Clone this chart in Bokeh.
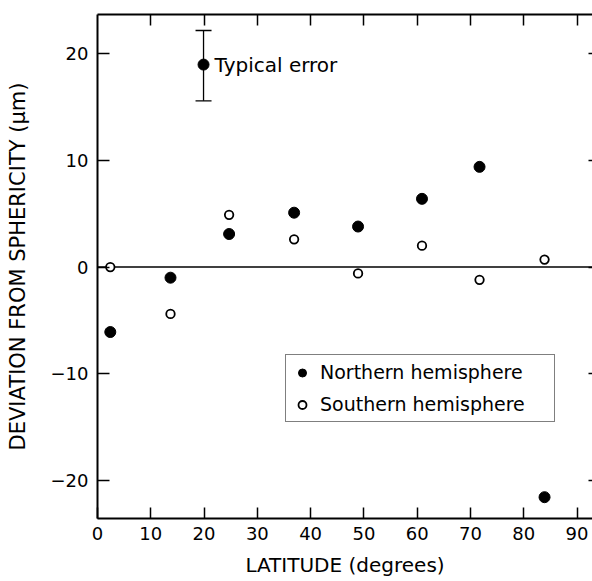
from bokeh.plotting import figure
from bokeh.models import (Range1d, FixedTicker, LinearAxis, Span, Whisker,
                          ColumnDataSource, TeeHead)
from bokeh.embed import file_html
from bokeh.resources import INLINE
from bokeh.core.properties import value

# ---- data ----
lat_north = [2.4, 13.7, 24.7, 36.9, 48.9, 60.9, 71.7, 83.9]
dev_north = [-6.1, -1.0, 3.1, 5.1, 3.8, 6.4, 9.4, -21.6]
lat_south = [2.4, 13.7, 24.7, 36.9, 48.9, 60.9, 71.7, 83.9]
dev_south = [0.0, -4.4, 4.9, 2.6, -0.6, 2.0, -1.2, 0.7]

err_x = [19.9]
err_y = [19.0]
err_lower = [15.6]
err_upper = [22.2]
err_text = ["Typical error"]

x_ticks = [0, 10, 20, 30, 40, 50, 60, 70, 80, 90]
y_ticks = [-20, -10, 0, 10, 20]

FONT = "DejaVu Sans"

p = figure(width=592, height=581, output_backend="svg", toolbar_location=None,
           x_range=Range1d(0, 92.9), y_range=Range1d(-23.6, 23.7),
           min_border_left=97, min_border_right=0, min_border_top=14,
           min_border_bottom=63)
p.background_fill_color = "white"
p.border_fill_color = "white"
p.outline_line_color = None
p.xgrid.visible = False
p.ygrid.visible = False

def style_axis(ax, ticks, tick_in, show_labels=True, line=True):
    ax.ticker = FixedTicker(ticks=ticks)
    ax.major_tick_in = tick_in
    ax.major_tick_out = 0
    ax.minor_tick_line_color = None
    ax.major_tick_line_color = "black"
    ax.major_tick_line_width = 1.5
    ax.axis_line_color = "black" if line else None
    ax.axis_line_width = 2
    if show_labels:
        ax.major_label_text_font = FONT
        ax.major_label_text_font_size = "18px"
        ax.major_label_text_color = "black"
    else:
        ax.major_label_text_font_size = "1px"
        ax.major_label_text_color = None
        ax.major_label_standoff = 0

# bottom
xa = p.xaxis[0]
style_axis(xa, x_ticks, 11)
xa.major_label_standoff = 8
xa.axis_label = "LATITUDE (degrees)"
xa.axis_label_text_font = FONT
xa.axis_label_text_font_size = "20px"
xa.axis_label_text_font_style = "normal"
xa.axis_label_standoff = 10
xa.axis_label_text_color = "black"

# left
ya = p.yaxis[0]
style_axis(ya, y_ticks, 12)
ya.major_label_standoff = 9
ya.axis_label = "DEVIATION FROM SPHERICITY (\u03bcm)"
ya.axis_label_text_font = FONT
ya.axis_label_text_font_size = "21px"
ya.axis_label_text_font_style = "normal"
ya.axis_label_standoff = 18
ya.axis_label_text_color = "black"

# top and right axes (ticks only)
top = LinearAxis()
style_axis(top, x_ticks[1:], 11, show_labels=False)
p.add_layout(top, "above")
right = LinearAxis()
style_axis(right, y_ticks, 4, show_labels=False, line=False)
p.add_layout(right, "right")

# zero line
p.add_layout(Span(location=0, dimension="width", line_color="black",
                  line_width=1.5, level="underlay"))

# data
p.scatter(lat_north, dev_north, size=11, marker="circle", fill_color="black",
          line_color="black", legend_label="Northern hemisphere")
p.scatter(lat_south, dev_south, size=8.5, marker="circle", fill_color="white",
          line_color="black", line_width=1.8, legend_label="Southern hemisphere")

# typical error
esrc = ColumnDataSource(dict(x=err_x, y=err_y, lo=err_lower, hi=err_upper, t=err_text))
p.add_layout(Whisker(source=esrc, base="x", lower="lo", upper="hi",
                     dimension="height", line_color="black", line_width=1.3,
                     lower_head=TeeHead(size=16, line_width=1.3, line_color="black"),
                     upper_head=TeeHead(size=16, line_width=1.3, line_color="black")))
p.scatter("x", "y", source=esrc, size=11, marker="circle", fill_color="black",
          line_color="black")
p.text("x", "y", text="t", source=esrc, x_offset=11, text_baseline="middle",
       text_align="left", text_font=value(FONT), text_font_size="20px",
       text_color="black")

# legend
lg = p.legend[0]
lg.location = (188, 96)
lg.border_line_color = "black"
lg.border_line_width = 1.5
lg.padding = 6
lg.spacing = 10
lg.margin = 0
lg.glyph_width = 20
lg.glyph_height = 21
lg.label_standoff = 8
lg.label_width = 228
lg.label_text_font = FONT
lg.label_text_font_size = "19px"
lg.label_text_color = "black"
lg.background_fill_alpha = 1

open("out.html", "w").write(file_html(p, INLINE))
